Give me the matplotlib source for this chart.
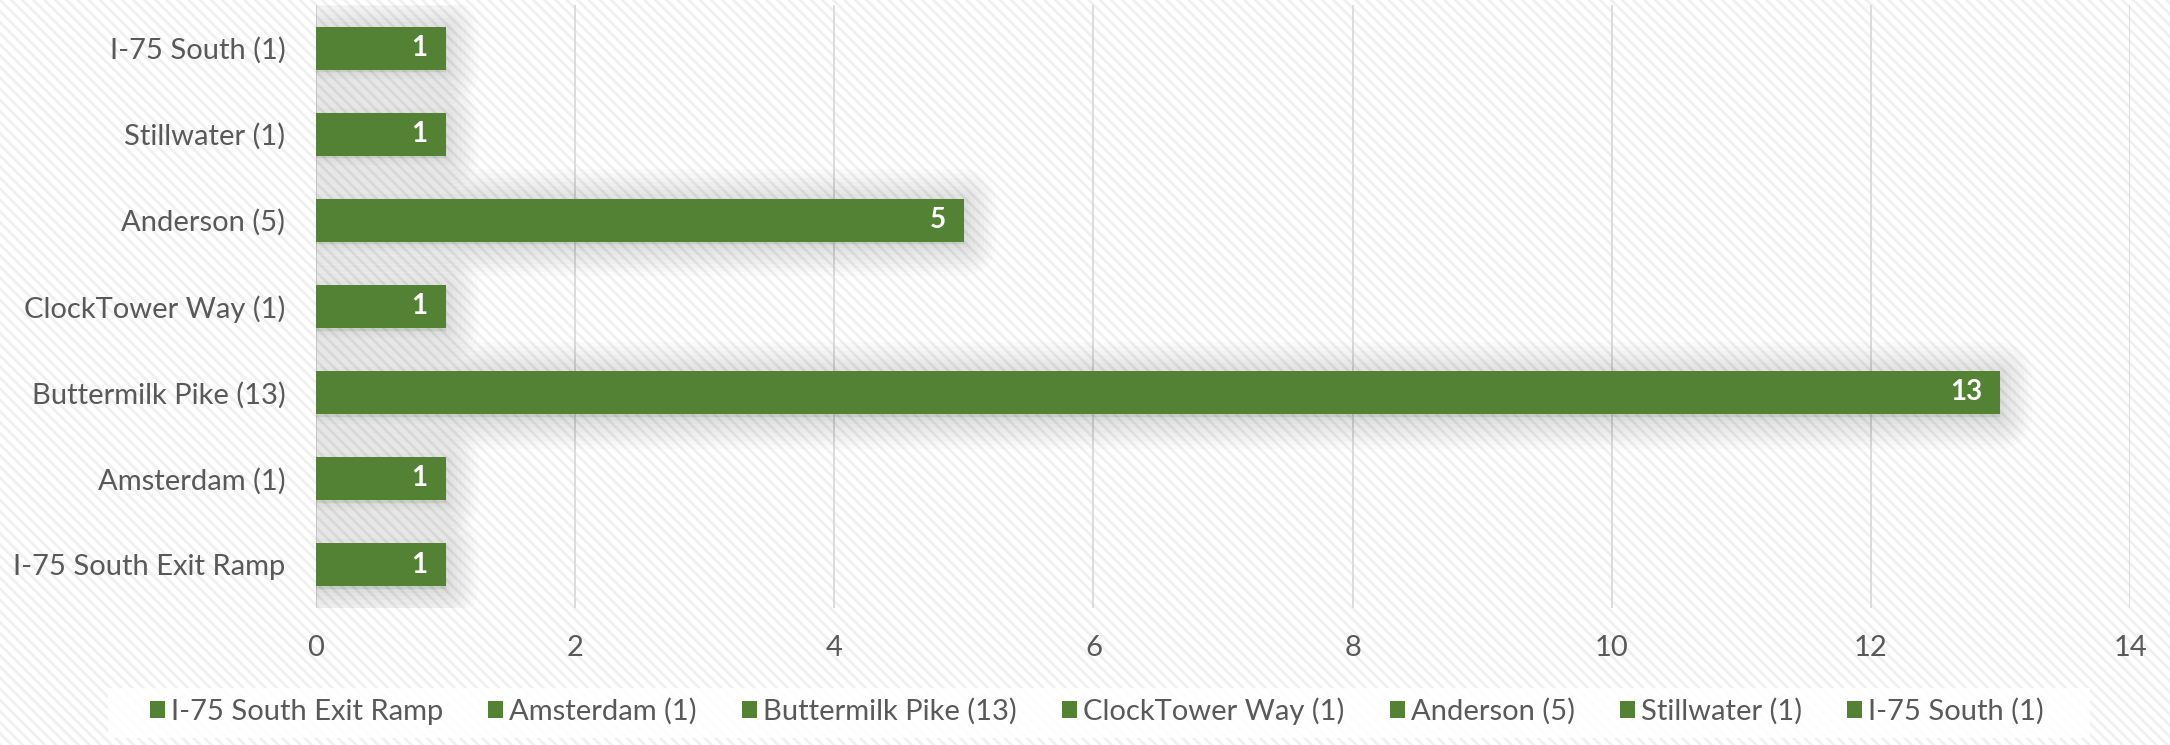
import matplotlib
matplotlib.use("Agg")
import matplotlib.pyplot as plt
import matplotlib.patheffects as pe
from matplotlib.patches import Rectangle
import numpy as np

# categories listed bottom -> top (same order as the legend)
locations = [
    "I-75 South Exit Ramp",
    "Amsterdam (1)",
    "Buttermilk Pike (13)",
    "ClockTower Way (1)",
    "Anderson (5)",
    "Stillwater (1)",
    "I-75 South (1)",
]
counts = [1, 1, 13, 1, 5, 1, 1]
xticks = [0, 2, 4, 6, 8, 10, 12, 14]

GREEN = "#548235"
TEXT = "#595959"
GRID = "#d9d9d9"

plt.rcParams["font.family"] = ["Lato", "DejaVu Sans"]
plt.rcParams["hatch.linewidth"] = 2.0

fig = plt.figure(figsize=(21.7, 7.45), dpi=100)
fig.patch.set_facecolor("white")
# light diagonal stripe background
fig.patches.append(Rectangle((0, 0), 1, 1, transform=fig.transFigure,
                             facecolor="white", edgecolor="#f0f0f0",
                             hatch="\\\\\\", linewidth=0, zorder=-5))
# white legend box
fig.patches.append(Rectangle((0.0498, 0.0094), 0.9132, 0.0671,
                             transform=fig.transFigure, facecolor="white",
                             edgecolor="none", alpha=0.9, zorder=-4))

ax = fig.add_axes([0.1456, 0.1845, 0.8360, 0.8088])
ax.set_facecolor("none")

y = np.arange(len(locations))
# soft outer shadow: stacked translucent strokes
shadow = [pe.Stroke(linewidth=w, foreground="black", alpha=0.016, offset=(0, -2),
                    joinstyle="round")
          for w in (46, 40, 34, 28, 22, 16, 10, 5)] + [pe.Normal()]

handles = []
for i, (name, val) in enumerate(zip(locations, counts)):
    b = ax.barh(y[i], val, height=0.5, color=GREEN, zorder=3)
    for p in b.patches:
        p.set_path_effects(shadow)
    handles.append(Rectangle((0, 0), 1, 1, facecolor=GREEN, edgecolor="none"))
    ax.annotate(f"{val}", (val, y[i]), xytext=(-13, 0), textcoords="offset points",
                ha="right", va="center", color="white", fontsize=20,
                fontweight="bold", zorder=4)

ax.set_xlim(0, 14)
ax.set_ylim(-0.5, len(locations) - 0.5)
ax.set_xticks(xticks)
ax.set_yticks(y)
ax.set_yticklabels(locations)
ax.tick_params(axis="both", length=0, labelsize=21, colors=TEXT)
ax.tick_params(axis="y", pad=22)
ax.tick_params(axis="x", pad=20)
for s in ax.spines.values():
    s.set_visible(False)
ax.grid(True, axis="x", color=GRID, linewidth=1.3, zorder=0)
ax.set_axisbelow(True)

leg = fig.legend(handles=handles, labels=locations, ncol=7,
                 loc="center", bbox_to_anchor=(0.5055, 0.0456),
                 frameon=False, fontsize=21, handlelength=0.52, handleheight=0.52,
                 handletextpad=0.2, columnspacing=1.55, borderpad=0.2)
for t in leg.get_texts():
    t.set_color(TEXT)

fig.savefig("out.png", dpi=100)
